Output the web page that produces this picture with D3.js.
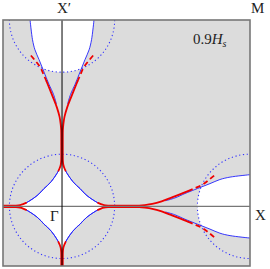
<!DOCTYPE html>
<html><head><meta charset="utf-8">
<script src="https://cdn.jsdelivr.net/npm/d3@7"></script>
<style>html,body{margin:0;padding:0;background:#fff;} svg{display:block;}</style>
</head><body>
<script>
// ---- data (units of k, Γ at origin, X at (1,0), X' at (0,1)) ----
const xDomain = [-0.314, 1];
const yDomain = [-0.32, 1];
const fieldLabel = "0.9";
const pointLabels = ["Γ", "X", "X′", "M"];
// centres of the dotted circles and their radius
const circleCentres = [[0, 0], [1, 0], [0, 1]];
const circleRadius = 0.28;
// Γ-centred white pocket, blue edge in the first quadrant
const starQuadrant = [[0.1915, 0.0186], [0.1755, 0.0277], [0.1543, 0.0415], [0.133, 0.0574],
  [0.1117, 0.0777], [0.0957, 0.0957], [0.0777, 0.1117], [0.0574, 0.133], [0.0415, 0.1543],
  [0.0277, 0.1755], [0.0186, 0.1915]];
// X-centred blue solid edge (upper half)
const blueEdgeX = [[1.0, 0.170], [0.894, 0.157], [0.840, 0.144], [0.787, 0.122], [0.734, 0.101],
  [0.681, 0.080], [0.654, 0.069], [0.60, 0.045], [0.55, 0.03]];
// red solid line (from the Γ pocket tip towards X, upper branch)
const redSolid = [[0.1915, 0.0186], [0.207, 0.0117], [0.223, 0.0069], [0.245, 0.0045], [0.29, 0.004],
  [0.35, 0.004], [0.41, 0.0045], [0.44, 0.007], [0.48, 0.013], [0.53, 0.027], [0.585, 0.048],
  [0.63, 0.066], [0.67, 0.082]];
// red dashed continuation
const redDashed = [[0.67, 0.082], [0.70, 0.095], [0.745, 0.115], [0.785, 0.145], [0.81, 0.166]];

const W = 270, H = 269;
const x = d3.scaleLinear().domain(xDomain).range([3, 250]);
const y = d3.scaleLinear().domain(yDomain).range([266, 20]);

// the eight symmetry operations of the square lattice
const ops = [p => [p[0], p[1]], p => [p[0], -p[1]], p => [-p[0], p[1]], p => [-p[0], -p[1]],
  p => [p[1], p[0]], p => [-p[1], p[0]], p => [p[1], -p[0]], p => [-p[1], -p[0]]];

const svg = d3.select("body").append("svg").attr("width", W).attr("height", H);
const defs = svg.append("defs");
defs.append("clipPath").attr("id", "plot").append("rect")
  .attr("x", x(xDomain[0])).attr("y", y(yDomain[1]))
  .attr("width", x(xDomain[1]) - x(xDomain[0])).attr("height", y(yDomain[0]) - y(yDomain[1]));
const rpx = x(circleRadius) - x(0);
const rpy = y(0) - y(circleRadius);
defs.append("clipPath").attr("id", "cX").append("ellipse")
  .attr("cx", x(1)).attr("cy", y(0)).attr("rx", rpx).attr("ry", rpy);
defs.append("clipPath").attr("id", "cXp").append("ellipse")
  .attr("cx", x(0)).attr("cy", y(1)).attr("rx", rpx).attr("ry", rpy);

const line = d3.line().x(d => x(d[0])).y(d => y(d[1])).curve(d3.curveCatmullRom);
const lineClosed = d3.line().x(d => x(d[0])).y(d => y(d[1])).curve(d3.curveLinearClosed);

const g = svg.append("g").attr("clip-path", "url(#plot)");
g.append("rect").attr("x", x(xDomain[0])).attr("y", y(yDomain[1]))
  .attr("width", x(xDomain[1]) - x(xDomain[0])).attr("height", y(yDomain[0]) - y(yDomain[1]))
  .attr("fill", "#dcdcdc");

// star pocket around Γ (white): blue edge plus the red tails near the axes
const tipRed = redSolid.filter(p => p[0] < 0.3);
const quadrant = [[0.31, 0]].concat(tipRed.slice().reverse(), starQuadrant.slice(1, -1),
  tipRed.map(p => [p[1], p[0]]), [[0, 0.31]]);
const starPts = [].concat(quadrant, quadrant.map(p => [-p[1], p[0]]),
  quadrant.map(p => [-p[0], -p[1]]), quadrant.map(p => [p[1], -p[0]]));
g.append("path").attr("d", lineClosed(starPts)).attr("fill", "#fff");

// pockets at X and X'
const pocketX = blueEdgeX.concat(blueEdgeX.slice().reverse().map(p => [p[0], -p[1]]), [[1.2, -0.3], [1.2, 0.3]]);
g.append("g").attr("clip-path", "url(#cX)").append("path")
  .attr("d", lineClosed(pocketX)).attr("fill", "#fff");
g.append("g").attr("clip-path", "url(#cXp)").append("path")
  .attr("d", lineClosed(pocketX.map(p => [p[1], p[0]]))).attr("fill", "#fff");

// dotted circles
g.selectAll("ellipse.dot").data(circleCentres).join("ellipse")
  .attr("cx", d => x(d[0])).attr("cy", d => y(d[1])).attr("rx", rpx).attr("ry", rpy)
  .attr("fill", "none").attr("stroke", "#3333ff").attr("stroke-width", 1.1)
  .attr("stroke-dasharray", "1.2,2.6");

// blue solid edges: Γ pocket and near X, X'
ops.forEach(op => {
  g.append("path").attr("d", line(starQuadrant.map(op))).attr("fill", "none")
    .attr("stroke", "#2222ff").attr("stroke-width", 0.9);
  g.append("path").attr("d", line(blueEdgeX.map(op))).attr("fill", "none")
    .attr("stroke", "#2222ff").attr("stroke-width", 0.9);
});

// red lines
ops.forEach(op => {
  g.append("path").attr("d", line(redSolid.map(op))).attr("fill", "none")
    .attr("stroke", "#ee0000").attr("stroke-width", 1.8).attr("stroke-linecap", "round");
  g.append("path").attr("d", line(redDashed.map(op))).attr("fill", "none")
    .attr("stroke", "#ee0000").attr("stroke-width", 1.8).attr("stroke-dasharray", "5,3.5");
});

// axes through Γ
g.append("line").attr("x1", x(xDomain[0])).attr("x2", x(xDomain[1])).attr("y1", y(0)).attr("y2", y(0))
  .attr("stroke", "#777").attr("stroke-width", 1.4);
g.append("line").attr("x1", x(0)).attr("x2", x(0)).attr("y1", y(yDomain[0])).attr("y2", y(yDomain[1]))
  .attr("stroke", "#000").attr("stroke-width", 1);

// frame
svg.append("rect").attr("x", x(xDomain[0])).attr("y", y(yDomain[1]))
  .attr("width", x(xDomain[1]) - x(xDomain[0])).attr("height", y(yDomain[0]) - y(yDomain[1]))
  .attr("fill", "none").attr("stroke", "#777").attr("stroke-width", 1.6);

// labels
const font = "'Liberation Serif', 'DejaVu Serif', serif";
const lbl = (t, px, py, anchor) => svg.append("text").attr("x", px).attr("y", py)
  .attr("text-anchor", anchor || "start").attr("font-family", font).attr("font-size", 15)
  .attr("fill", "#222").text(t);
lbl(pointLabels[2], x(0) + 2, 13, "middle");
lbl(pointLabels[3], x(1) + 1, 13);
lbl(pointLabels[1], x(1) + 5, y(0) + 14);
lbl(pointLabels[0], x(0) - 12, y(0) + 15);
const t = svg.append("text").attr("x", 193).attr("y", 44).attr("font-family", font)
  .attr("font-size", 15).attr("fill", "#222");
t.append("tspan").text(fieldLabel);
t.append("tspan").attr("font-style", "italic").text("H");
t.append("tspan").attr("font-style", "italic").attr("font-size", 10).attr("dy", 3).text("s");
</script>
</body></html>
